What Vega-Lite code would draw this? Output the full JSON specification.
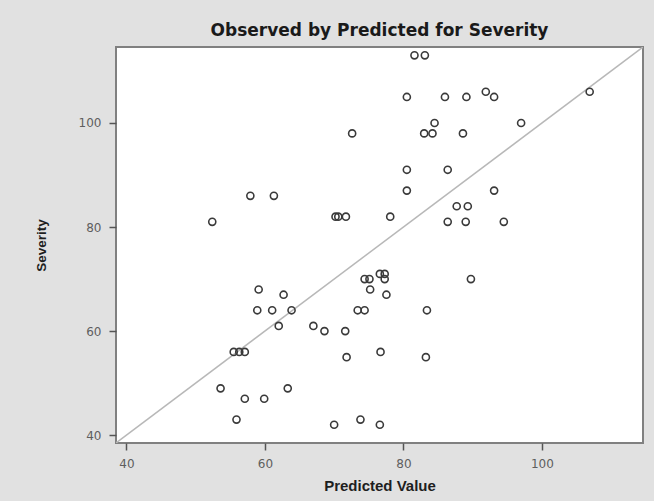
{
  "$schema": "https://vega.github.io/schema/vega-lite/v6.json",
  "autosize": {"type": "none"},
  "width": 527,
  "height": 396,
  "padding": {"left": 116, "top": 47, "right": 11, "bottom": 58},
  "background": "#e1e1e1",
  "title": {
    "text": "Observed by Predicted for Severity",
    "font": "DejaVu Sans",
    "fontSize": 17,
    "fontWeight": "bold",
    "color": "#1a1a1a",
    "anchor": "middle",
    "offset": 7
  },
  "config": {
    "view": {"fill": "white", "stroke": "#808080", "strokeWidth": 2},
    "axis": {
      "grid": false,
      "domain": false,
      "labelFont": "DejaVu Sans",
      "labelFontSize": 12,
      "labelColor": "#5e5e5e",
      "tickColor": "#555555",
      "tickWidth": 1.5,
      "tickSize": 7,
      "labelPadding": 8,
      "titleFont": "Liberation Sans",
      "titleFontWeight": "bold",
      "titleColor": "#1e1e1e"
    }
  },
  "datasets": {
    "pts": [
      {"predicted": 81.6, "severity": 113}, {"predicted": 83.1, "severity": 113},
      {"predicted": 91.9, "severity": 106}, {"predicted": 106.9, "severity": 106},
      {"predicted": 80.5, "severity": 105}, {"predicted": 86.0, "severity": 105}, {"predicted": 89.1, "severity": 105}, {"predicted": 93.1, "severity": 105},
      {"predicted": 84.5, "severity": 100}, {"predicted": 97.0, "severity": 100},
      {"predicted": 72.6, "severity": 98}, {"predicted": 83.0, "severity": 98}, {"predicted": 84.2, "severity": 98}, {"predicted": 88.6, "severity": 98},
      {"predicted": 80.5, "severity": 91}, {"predicted": 86.4, "severity": 91},
      {"predicted": 80.5, "severity": 87}, {"predicted": 93.1, "severity": 87},
      {"predicted": 57.9, "severity": 86}, {"predicted": 61.3, "severity": 86},
      {"predicted": 87.7, "severity": 84}, {"predicted": 89.3, "severity": 84},
      {"predicted": 70.2, "severity": 82}, {"predicted": 70.6, "severity": 82}, {"predicted": 71.7, "severity": 82}, {"predicted": 78.1, "severity": 82},
      {"predicted": 52.4, "severity": 81}, {"predicted": 86.4, "severity": 81}, {"predicted": 89.0, "severity": 81}, {"predicted": 94.5, "severity": 81},
      {"predicted": 76.6, "severity": 71}, {"predicted": 77.3, "severity": 71},
      {"predicted": 74.4, "severity": 70}, {"predicted": 75.1, "severity": 70}, {"predicted": 77.3, "severity": 70}, {"predicted": 89.75, "severity": 70},
      {"predicted": 59.1, "severity": 68}, {"predicted": 75.2, "severity": 68},
      {"predicted": 62.7, "severity": 67}, {"predicted": 77.55, "severity": 67},
      {"predicted": 58.9, "severity": 64}, {"predicted": 61.05, "severity": 64}, {"predicted": 63.85, "severity": 64}, {"predicted": 73.4, "severity": 64}, {"predicted": 74.4, "severity": 64}, {"predicted": 83.4, "severity": 64},
      {"predicted": 62.0, "severity": 61}, {"predicted": 67.0, "severity": 61},
      {"predicted": 68.6, "severity": 60}, {"predicted": 71.6, "severity": 60},
      {"predicted": 55.5, "severity": 56}, {"predicted": 56.3, "severity": 56}, {"predicted": 57.1, "severity": 56}, {"predicted": 76.7, "severity": 56},
      {"predicted": 71.8, "severity": 55}, {"predicted": 83.25, "severity": 55},
      {"predicted": 53.6, "severity": 49}, {"predicted": 63.3, "severity": 49},
      {"predicted": 57.1, "severity": 47}, {"predicted": 59.9, "severity": 47},
      {"predicted": 55.9, "severity": 43}, {"predicted": 73.8, "severity": 43},
      {"predicted": 70.0, "severity": 42}, {"predicted": 76.6, "severity": 42}
    ],
    "diag": [
      {"predicted": 38.5, "severity": 38.5},
      {"predicted": 114.6, "severity": 114.6}
    ]
  },
  "layer": [
    {
      "data": {"name": "diag"},
      "mark": {"type": "line", "color": "#b8b8b8", "strokeWidth": 1.5, "clip": true},
      "encoding": {
        "x": {"field": "predicted", "type": "quantitative"},
        "y": {"field": "severity", "type": "quantitative"}
      }
    },
    {
      "data": {"name": "pts"},
      "mark": {"type": "point", "shape": "circle", "filled": false, "color": "#3a3a3a", "strokeWidth": 1.6, "size": 50, "opacity": 1},
      "encoding": {
        "x": {
          "field": "predicted", "type": "quantitative",
          "scale": {"domain": [38.5, 114.6], "nice": false, "zero": false},
          "axis": {"values": [40, 60, 80, 100], "title": "Predicted Value", "titleFontSize": 15, "titlePadding": 9}
        },
        "y": {
          "field": "severity", "type": "quantitative",
          "scale": {"domain": [38.5, 114.6], "nice": false, "zero": false},
          "axis": {"values": [40, 60, 80, 100], "title": "Severity", "titleFontSize": 13.5, "titlePadding": 30}
        }
      }
    }
  ]
}
